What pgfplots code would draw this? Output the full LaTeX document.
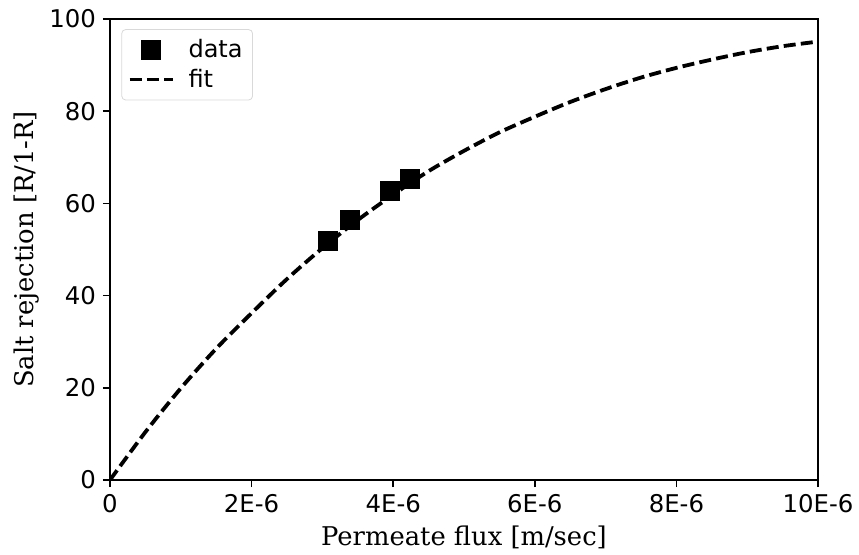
\documentclass[border=0pt]{standalone}
\usepackage{fontspec}
\setmainfont{DejaVu Serif}
\setsansfont{DejaVu Sans}
\usepackage{pgfplots}
\pgfplotsset{compat=1.18}
\pgfplotsset{
    sq legend/.style={legend image code/.code={\draw[mark repeat=2, mark phase=2, ##1]
        plot coordinates {(0pt,0pt) (10.75pt,0pt) (21.5pt,0pt)};}},
    dash legend/.style={legend image code/.code={\draw[##1] (0pt,0pt) -- (21.5pt,0pt);}},
}

\begin{document}
\begin{tikzpicture}
\path[use as bounding box] (-55pt,-37pt) rectangle (374.5pt,240pt);
\begin{axis}[
    scale only axis,
    width=354pt,
    height=230.5pt,
    at={(0,0)}, anchor=south west,
    xmin=0, xmax=10,
    ymin=0, ymax=100,
    xtick={0,2,4,6,8,10},
    xticklabels={0,2E-6,4E-6,6E-6,8E-6,10E-6},
    ytick={0,20,40,60,80,100},
    tick label style={font=\sffamily\fontsize{12.2}{14}\selectfont},
    /pgf/number format/assume math mode=true,
    tick align=outside,
    major tick length=3.5pt,
    tick style={line width=0.8pt, black},
    axis line style={line width=0.8pt},
    xtick pos=bottom, ytick pos=left,
    xlabel={Permeate flux [m/sec]},
    ylabel={Salt rejection [R/1-R]},
    label style={font=\fontsize{12.9}{15}\selectfont},
    ylabel style={yshift=-2pt},
    legend cell align=left,
    legend style={font=\sffamily\fontsize{12}{14}\selectfont, draw=black!15, rounded corners=2pt,
        at={(0.016,0.978)}, anchor=north west, inner xsep=3pt, inner ysep=3pt,
        nodes={inner xsep=2pt},
        /tikz/every odd column/.append style={column sep=5pt}},
]
\addplot[only marks, mark=square*, mark size=4.75pt, black, sq legend] coordinates {
    (3.08,51.8) (3.39,56.4) (3.95,62.7) (4.24,65.3)
};
\addlegendentry{data}
\addplot[black, line width=1.9pt, dash pattern=on 6pt off 2.6pt, smooth, dash legend] coordinates {
    (0,0) (0.5,10.4) (1,19.9) (1.5,28.5) (2,36.2) (2.5,43.6) (3,50.3)
    (3.5,56.4) (4,61.9) (4.5,67.0) (5,71.4) (5.5,75.4) (6,78.8)
    (6.5,82.0) (7,84.8) (7.5,87.3) (8,89.4) (8.5,91.2) (9,92.8)
    (9.5,94.1) (10,95.1)
};
\addlegendentry{fit}
\end{axis}
\end{tikzpicture}
\end{document}
